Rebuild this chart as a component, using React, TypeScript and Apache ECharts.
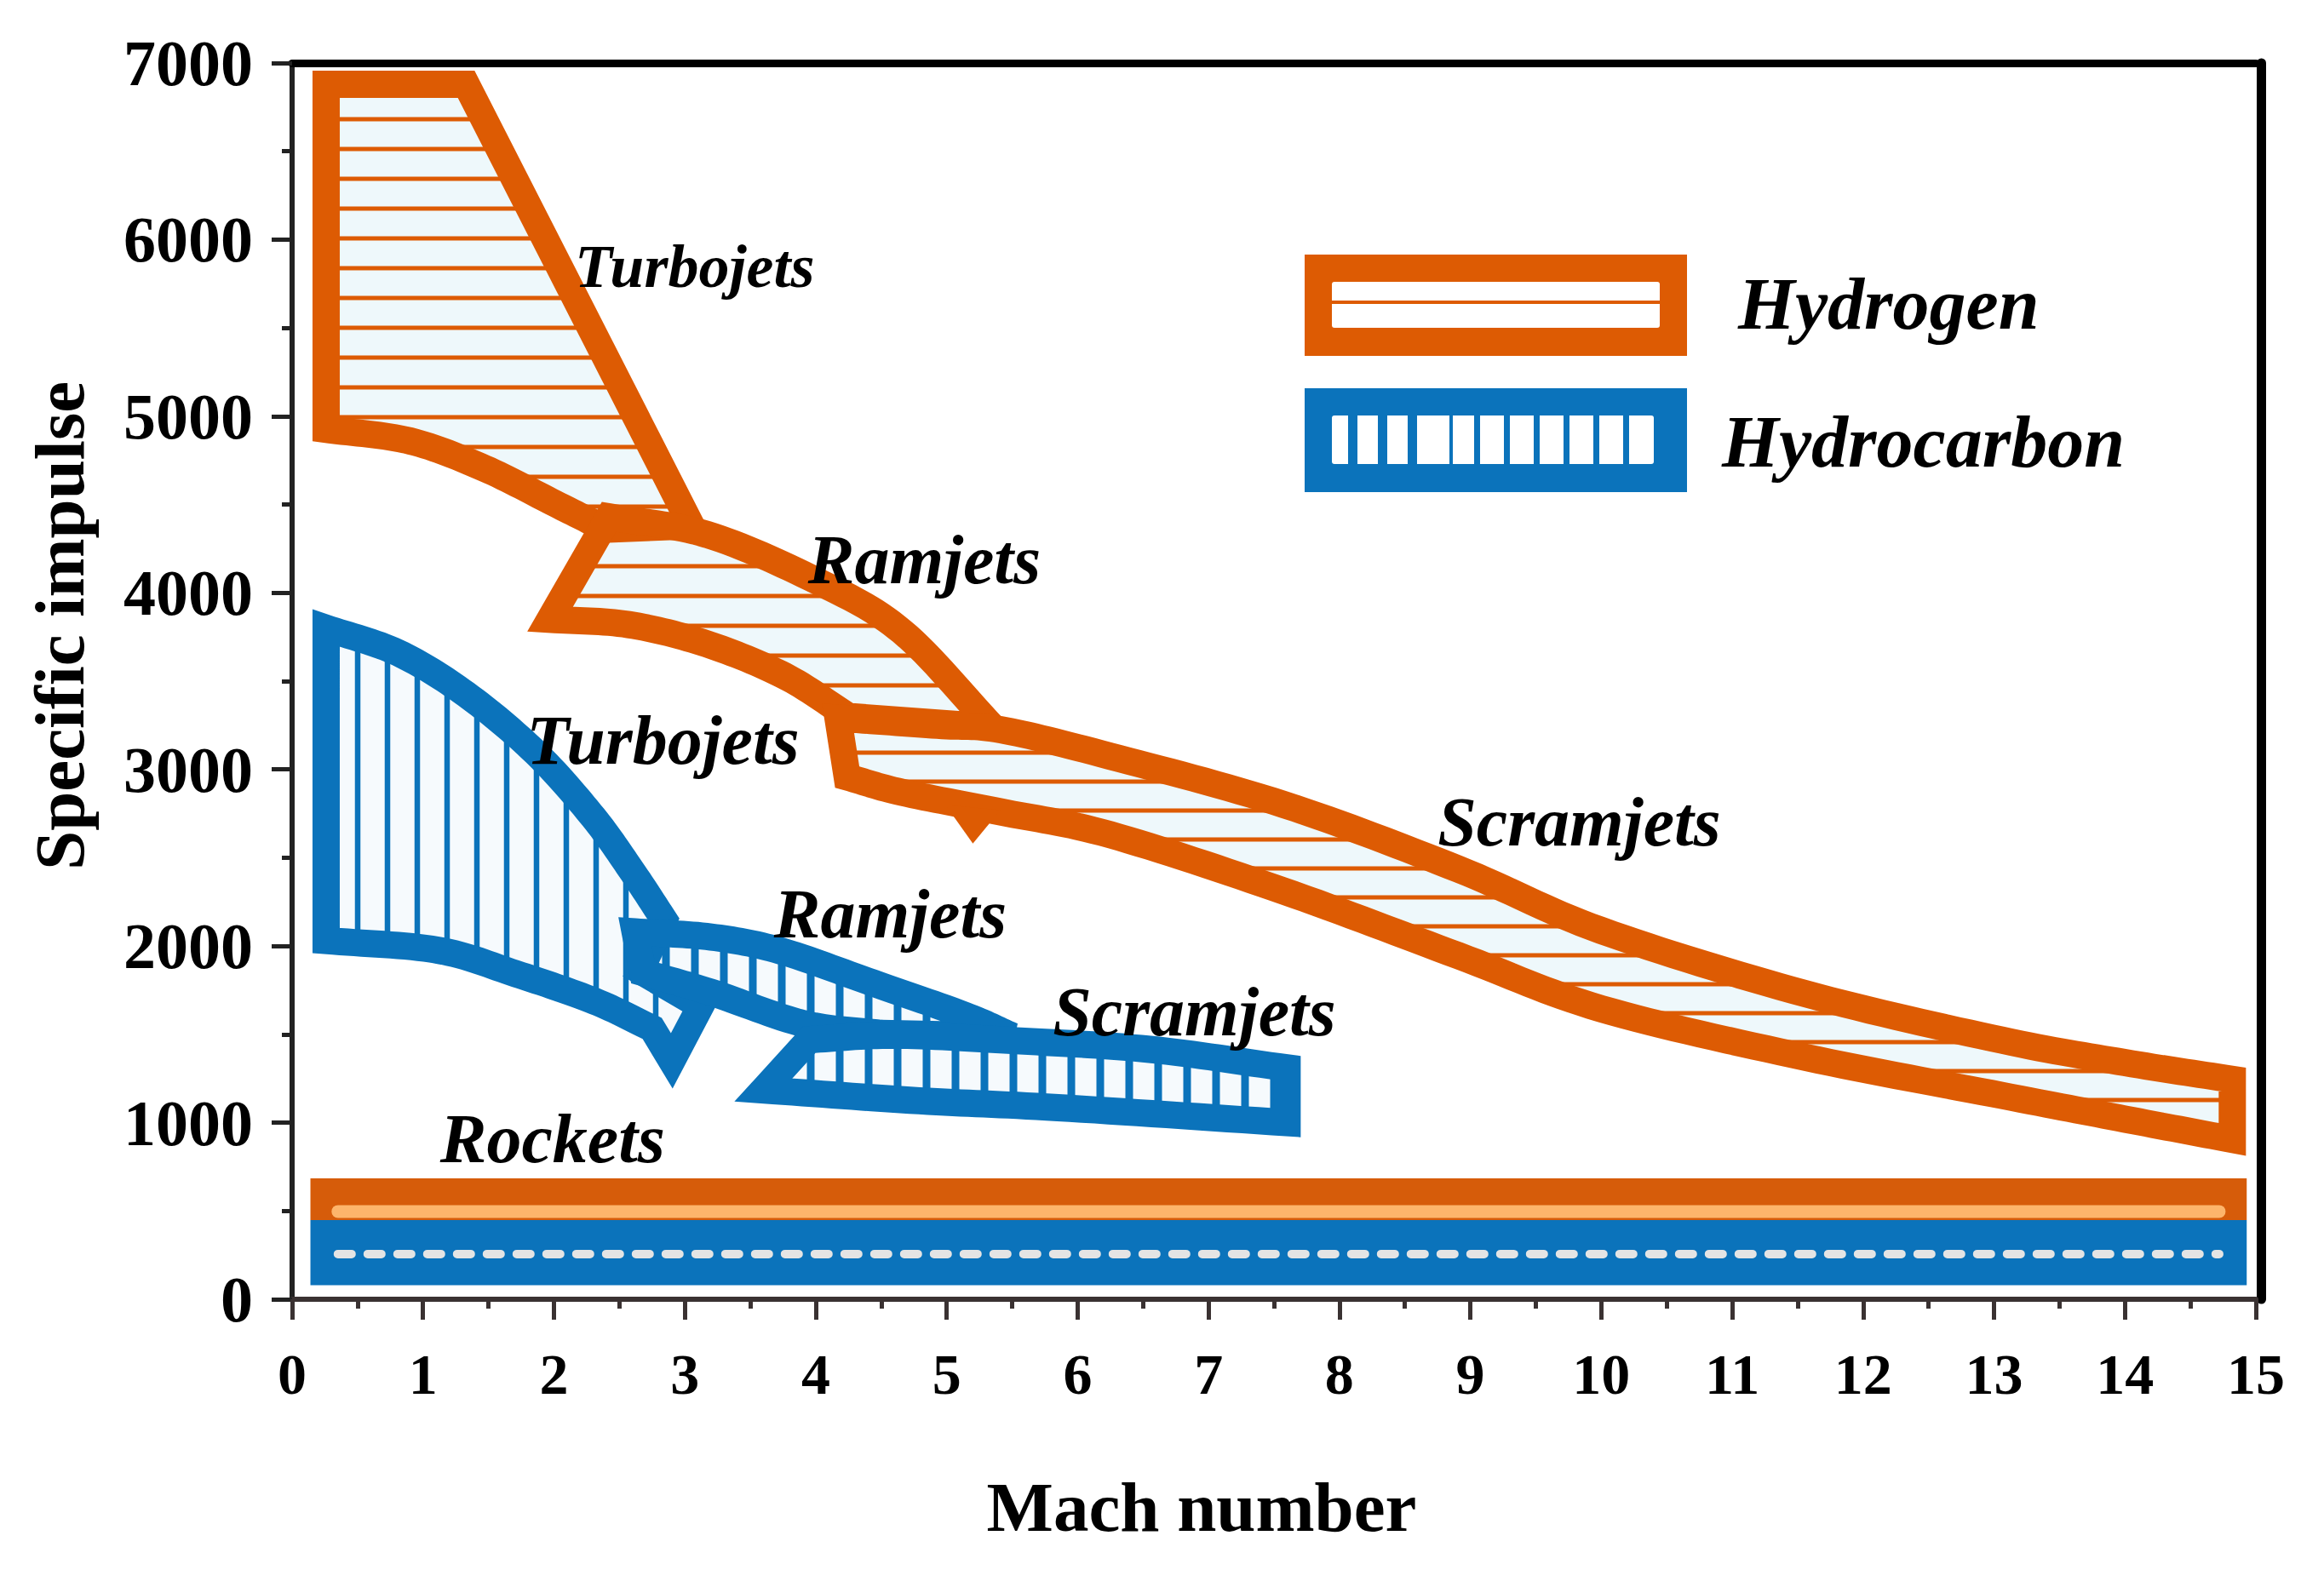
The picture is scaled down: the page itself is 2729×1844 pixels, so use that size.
import React, { useEffect, useRef } from "react";
import * as echarts from "echarts";

// ---------- data: [Mach number, specific impulse]; each band is a list of edges ----------
const H2_TURBOJETS = [
  [[0.26, 4926], [0.26, 6880]],
  [[0.26, 6880], [1.33, 6880]],
  [[1.33, 6880], [3.05, 4380]],
  [[3.05, 4380], [2.4, 4360]],
  [[2.4, 4360], [2.01, 4505], [1.47, 4705], [0.9, 4860], [0.26, 4926]],
];
const H2_RAMJETS = [
  [[2.42, 4430], [3.17, 4330], [4.0, 4070], [4.66, 3780], [5.35, 3240]],
  [[5.35, 3240], [4.25, 3300]],
  [[4.25, 3300], [3.76, 3530], [3.17, 3710], [2.57, 3820], [1.97, 3850]],
  [[1.97, 3850], [2.42, 4430]],
];
const H2_SCRAMJETS = [
  [[4.24, 2957], [4.17, 3290]],
  [[4.17, 3290], [4.93, 3250], [5.41, 3225], [6.25, 3075], [7.58, 2800], [8.91, 2435], [10.0, 2088], [11.56, 1730], [13.06, 1467], [14.0, 1340], [14.82, 1245]],
  [[14.82, 1245], [14.82, 905]],
  [[14.82, 905], [14.0, 1020], [13.06, 1154], [11.56, 1370], [10.0, 1645], [8.91, 1945], [7.58, 2310], [6.25, 2630], [5.41, 2760], [4.66, 2870], [4.24, 2957]],
];
const H2_SCRAM_NOTCH = [[4.99, 2800], [5.2, 2581], [5.41, 2770]];

const HC_TURBOJETS = [
  [[0.26, 2031], [0.26, 3800]],
  [[0.26, 3800], [0.81, 3660], [1.33, 3425], [1.86, 3095], [2.3, 2730], [2.6, 2420], [2.84, 2150]],
  [[2.84, 2150], [2.66, 1860]],
  [[2.66, 1860], [3.12, 1660]],
  [[3.12, 1660], [2.9, 1350]],
  [[2.9, 1350], [2.75, 1534]],
  [[2.75, 1534], [2.31, 1688], [1.71, 1843], [1.11, 1977], [0.26, 2031]],
];
const HC_RAMJETS = [
  [[2.62, 2080], [3.2, 2051], [3.73, 1973], [4.44, 1790], [5.14, 1607], [5.5, 1490]],
  [[5.5, 1490], [4.5, 1505]],
  [[4.5, 1505], [3.91, 1560], [3.2, 1738], [2.68, 1850]],
  [[2.68, 1850], [2.62, 2080]],
];
const HC_SCRAMJETS = [
  [[3.6, 1185], [3.95, 1470]],
  [[3.95, 1470], [4.6, 1495], [5.5, 1465], [6.55, 1415], [7.6, 1310]],
  [[7.6, 1310], [7.6, 1000]],
  [[7.6, 1000], [5.85, 1085], [4.79, 1124], [3.6, 1185]],
];

// Rockets: [machStart, machEnd, ispLow, ispHigh]
const ROCKETS_H2 = [0.14, 14.93, 448, 685];
const ROCKETS_HC = [0.14, 14.93, 80, 448];
const ROCKETS_H2_STRIPE = [[0.35, 497], [14.72, 497]];
const ROCKETS_HC_DASH = [[0.35, 256], [14.72, 256]];

// Region labels
const LABEL_TEXT = ["Turbojets", "Ramjets", "Scramjets", "Turbojets", "Ramjets", "Scramjets", "Rockets"];
const LABEL_MACH = [2.16, 3.94, 8.75, 1.79, 3.68, 5.81, 1.13];
const LABEL_ISP = [5850, 4186, 2700, 3164, 2180, 1625, 911];
const LABEL_SIZE = [72, 82, 82, 82, 82, 82, 82];

const LEGEND_NAMES = ["Hydrogen", "Hydrocarbon"];
const X_TITLE = "Mach number";
const Y_TITLE = "Specific impulse";

// ---------- styles ----------
const ORANGE = "#DD5B03";
const BLUE = "#0B73BB";
const ROCKET_ORANGE = "#D65C0A";
const STRIPE = "#FDB56B";
const ORANGE_FILL = "#EEF8FB";
const BLUE_FILL = "#F6FAFD";
const SERIF = "Liberation Serif";
const STROKE_W = 32;

type Pt = number[];

function catmull(p: Pt[], n: number): Pt[] {
  const out: Pt[] = [p[0]];
  for (let i = 0; i < p.length - 1; i++) {
    const p1 = p[i], p2 = p[i + 1];
    const p0 = i > 0 ? p[i - 1] : [2 * p1[0] - p2[0], 2 * p1[1] - p2[1]];
    const p3 = i + 2 < p.length ? p[i + 2] : [2 * p2[0] - p1[0], 2 * p2[1] - p1[1]];
    for (let k = 1; k <= n; k++) {
      const t = k / n, t2 = t * t, t3 = t2 * t;
      out.push([0, 1].map((d) =>
        0.5 * (2 * p1[d] + (-p0[d] + p2[d]) * t + (2 * p0[d] - 5 * p1[d] + 4 * p2[d] - p3[d]) * t2 + (-p0[d] + 3 * p1[d] - 3 * p2[d] + p3[d]) * t3)
      ));
    }
  }
  return out;
}

function bandPixels(edges: Pt[][], api: any): Pt[] {
  const out: Pt[] = [];
  edges.forEach((edge) => {
    const px = edge.map((p) => api.coord(p));
    const pts = px.length > 2 ? catmull(px, 16) : px;
    pts.forEach((p, j) => {
      if (j === 0 && out.length) return;
      out.push(p);
    });
  });
  const f = out[0], l = out[out.length - 1];
  if (Math.abs(f[0] - l[0]) < 0.5 && Math.abs(f[1] - l[1]) < 0.5) out.pop();
  return out;
}

function hatch(px: Pt[], dir: "h" | "v", spacing: number) {
  const a = dir === "h" ? 1 : 0;
  const b = 1 - a;
  let lo = Infinity, hi = -Infinity;
  px.forEach((p) => { lo = Math.min(lo, p[a]); hi = Math.max(hi, p[a]); });
  const segs: number[][] = [];
  for (let s = Math.ceil(lo / spacing) * spacing; s <= hi; s += spacing) {
    const cuts: number[] = [];
    for (let i = 0; i < px.length; i++) {
      const p = px[i], q = px[(i + 1) % px.length];
      if ((p[a] <= s && q[a] > s) || (q[a] <= s && p[a] > s)) {
        cuts.push(p[b] + ((s - p[a]) * (q[b] - p[b])) / (q[a] - p[a]));
      }
    }
    cuts.sort((m, n) => m - n);
    for (let k = 0; k + 1 < cuts.length; k += 2) {
      segs.push(a === 1 ? [cuts[k], s, cuts[k + 1], s] : [s, cuts[k], s, cuts[k + 1]]);
    }
  }
  return segs;
}

function fillSeries(edges: Pt[][], fill: string, hatchColor: string, dir: "h" | "v", spacing: number, hw: number) {
  return {
    type: "custom",
    coordinateSystem: "cartesian2d",
    silent: true,
    clip: false,
    data: edges.flat(),
    renderItem: (params: any, api: any) => {
      if (params.dataIndex !== 0) return null;
      const px = bandPixels(edges, api);
      const children: any[] = [
        { type: "polygon", shape: { points: px }, style: { fill, lineWidth: 0 } },
      ];
      hatch(px, dir, spacing).forEach((s) => {
        children.push({
          type: "line",
          shape: { x1: s[0], y1: s[1], x2: s[2], y2: s[3] },
          style: { stroke: hatchColor, lineWidth: hw },
        });
      });
      return { type: "group", children };
    },
  };
}

function outlineSeries(edges: Pt[][], color: string) {
  return {
    type: "custom",
    coordinateSystem: "cartesian2d",
    silent: true,
    clip: false,
    data: edges.flat(),
    renderItem: (params: any, api: any) => {
      if (params.dataIndex !== 0) return null;
      const px = bandPixels(edges, api);
      return {
        type: "polygon",
        shape: { points: px },
        style: { fill: "none", stroke: color, lineWidth: STROKE_W, lineJoin: "miter", miterLimit: 4 },
      };
    },
  };
}

function solidSeries(points: Pt[], color: string) {
  return {
    type: "custom",
    coordinateSystem: "cartesian2d",
    silent: true,
    clip: false,
    data: points,
    renderItem: (params: any, api: any) => {
      if (params.dataIndex !== 0) return null;
      const px = points.map((p) => api.coord(p));
      return { type: "polygon", shape: { points: px }, style: { fill: color } };
    },
  };
}

function rectSeries(r: number[], color: string) {
  return {
    type: "custom",
    coordinateSystem: "cartesian2d",
    silent: true,
    data: [[r[0], r[3]]],
    renderItem: (params: any, api: any) => {
      const tl = api.coord([r[0], r[3]]);
      const br = api.coord([r[1], r[2]]);
      return {
        type: "rect",
        shape: { x: tl[0], y: tl[1], width: br[0] - tl[0], height: br[1] - tl[1] },
        style: { fill: color },
      };
    },
  };
}

export default function App() {
  const ref = useRef<HTMLDivElement>(null);

  useEffect(() => {
    if (!ref.current) return;
    const chart = echarts.init(ref.current, null, { renderer: "svg" });

    const axisCommon = { splitLine: { show: false } };
    const labelData = LABEL_TEXT.map((t, i) => [LABEL_MACH[i], LABEL_ISP[i], i]);

    const sepX = [1583, 1618, 1653, 1702, 1731, 1766, 1801, 1836, 1871, 1906];
    const sepW = [11, 11, 11, 4, 7, 7, 7, 7, 7, 7];

    const option: any = {
      animation: false,
      backgroundColor: "#ffffff",
      grid: { left: 343, right: 80, top: 74, bottom: 318, outerBoundsMode: "none" },
      xAxis: [
        {
          type: "value", min: 0, max: 15, interval: 1, position: "bottom",
          axisLine: { show: true, onZero: false, lineStyle: { color: "#3a3232", width: 6 } },
          axisTick: { show: true, length: 24, lineStyle: { color: "#3a3232", width: 5 } },
          minorTick: { show: true, splitNumber: 2, length: 11, lineStyle: { color: "#3a3232", width: 5 } },
          axisLabel: { fontSize: 68, fontWeight: "bold", fontFamily: SERIF, color: "#000", margin: 54, showMinLabel: true, showMaxLabel: true, formatter: (v: number) => String(v) },
          minorSplitLine: { show: false },
          ...axisCommon,
        },
        {
          type: "value", min: 0, max: 15, position: "top",
          axisLine: { show: true, onZero: false, lineStyle: { color: "#000", width: 9 } },
          axisTick: { show: false }, axisLabel: { show: false },
          ...axisCommon,
        },
      ],
      yAxis: [
        {
          type: "value", min: 0, max: 7000, interval: 1000, position: "left",
          axisLine: { show: true, onZero: false, lineStyle: { color: "#222", width: 6 } },
          axisTick: { show: true, length: 24, lineStyle: { color: "#222", width: 5 } },
          minorTick: { show: true, splitNumber: 2, length: 12, lineStyle: { color: "#222", width: 5 } },
          axisLabel: { fontSize: 76, fontWeight: "bold", fontFamily: SERIF, color: "#000", margin: 46, showMinLabel: true, showMaxLabel: true, formatter: (v: number) => String(v) },
          minorSplitLine: { show: false },
          ...axisCommon,
        },
        {
          type: "value", min: 0, max: 7000, position: "right", offset: 6,
          axisLine: { show: true, onZero: false, lineStyle: { color: "#000", width: 11 } },
          axisTick: { show: false }, axisLabel: { show: false },
          ...axisCommon,
        },
      ],
      series: [
        // fills + hatching
        fillSeries(H2_TURBOJETS, ORANGE_FILL, ORANGE, "h", 35, 5),
        fillSeries(H2_RAMJETS, ORANGE_FILL, ORANGE, "h", 35, 5),
        fillSeries(H2_SCRAMJETS, ORANGE_FILL, ORANGE, "h", 34, 5),
        fillSeries(HC_TURBOJETS, BLUE_FILL, BLUE, "v", 35, 6.5),
        fillSeries(HC_RAMJETS, BLUE_FILL, BLUE, "v", 34, 9),
        fillSeries(HC_SCRAMJETS, BLUE_FILL, BLUE, "v", 34, 9),
        // outlines
        outlineSeries(H2_TURBOJETS, ORANGE),
        outlineSeries(H2_RAMJETS, ORANGE),
        outlineSeries(H2_SCRAMJETS, ORANGE),
        solidSeries(H2_SCRAM_NOTCH, ORANGE),
        outlineSeries(HC_TURBOJETS, BLUE),
        outlineSeries(HC_RAMJETS, BLUE),
        outlineSeries(HC_SCRAMJETS, BLUE),
        // rockets
        rectSeries(ROCKETS_H2, ROCKET_ORANGE),
        rectSeries(ROCKETS_HC, BLUE),
        {
          type: "line", data: ROCKETS_H2_STRIPE, showSymbol: false, silent: true,
          lineStyle: { color: STRIPE, width: 15, cap: "round" },
        },
        {
          type: "line", data: ROCKETS_HC_DASH, showSymbol: false, silent: true,
          lineStyle: { color: "#E4E4E4", width: 10, cap: "round", type: [16, 19] },
        },
        // labels
        {
          type: "custom",
          coordinateSystem: "cartesian2d",
          silent: true,
          clip: false,
          data: labelData,
          renderItem: (params: any, api: any) => {
            const i = params.dataIndex;
            const p = api.coord([LABEL_MACH[i], LABEL_ISP[i]]);
            return {
              type: "text",
              x: p[0], y: p[1],
              style: {
                text: LABEL_TEXT[i],
                fontSize: LABEL_SIZE[i],
                fontFamily: SERIF,
                fontWeight: "bold",
                fontStyle: "italic",
                fill: "#000",
                align: "left",
                verticalAlign: "middle",
              },
            };
          },
        },
      ],
      graphic: [
        // Hydrogen legend box
        { type: "rect", shape: { x: 1532, y: 299, width: 449, height: 119 }, style: { fill: ORANGE } },
        { type: "rect", shape: { x: 1564, y: 331, width: 385, height: 54, r: 3 }, style: { fill: "#fff" } },
        { type: "rect", shape: { x: 1564, y: 353, width: 385, height: 4 }, style: { fill: ORANGE } },
        // Hydrocarbon legend box
        { type: "rect", shape: { x: 1532, y: 456, width: 449, height: 122 }, style: { fill: BLUE } },
        { type: "rect", shape: { x: 1564, y: 488, width: 378, height: 57, r: 3 }, style: { fill: "#fff" } },
        ...sepX.map((x, i) => ({ type: "rect", shape: { x, y: 488, width: sepW[i], height: 57 }, style: { fill: BLUE } })),
        {
          type: "text", x: 2041, y: 357,
          style: { text: LEGEND_NAMES[0], fontSize: 86, fontFamily: SERIF, fontWeight: "bold", fontStyle: "italic", fill: "#000", align: "left", verticalAlign: "middle" },
        },
        {
          type: "text", x: 2022, y: 519,
          style: { text: LEGEND_NAMES[1], fontSize: 86, fontFamily: SERIF, fontWeight: "bold", fontStyle: "italic", fill: "#000", align: "left", verticalAlign: "middle" },
        },
        // axis titles
        {
          type: "text", x: 1411, y: 1770,
          style: { text: X_TITLE, fontSize: 83, fontFamily: SERIF, fontWeight: "bold", fill: "#000", align: "center", verticalAlign: "middle" },
        },
        {
          type: "text", x: 70, y: 735, rotation: Math.PI / 2,
          style: { text: Y_TITLE, fontSize: 83, fontFamily: SERIF, fontWeight: "bold", fill: "#000", align: "center", verticalAlign: "middle" },
        },
      ],
    };

    chart.setOption(option);
    return () => chart.dispose();
  }, []);

  return (
    <div
      ref={ref}
      style={{ position: "absolute", left: 0, top: 0, width: 2729, height: 1844, background: "#fff" }}
    />
  );
}
